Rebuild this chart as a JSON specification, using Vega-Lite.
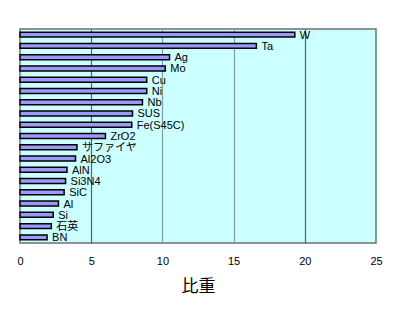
{
  "$schema": "https://vega.github.io/schema/vega-lite/v6.json",
  "autosize": "none",
  "width": 356,
  "height": 214,
  "padding": {"left": 20, "top": 29, "right": 24, "bottom": 77},
  "background": "white",
  "config": {
    "view": {"fill": "#ccffff", "stroke": "#707070", "strokeWidth": 1.5},
    "font": "Liberation Sans, Noto Sans CJK JP"
  },
  "data": {
    "values": [
      {"material": "W", "sg": 19.3},
      {"material": "Ta", "sg": 16.6},
      {"material": "Ag", "sg": 10.5},
      {"material": "Mo", "sg": 10.2},
      {"material": "Cu", "sg": 8.9},
      {"material": "Ni", "sg": 8.9},
      {"material": "Nb", "sg": 8.6},
      {"material": "SUS", "sg": 7.9},
      {"material": "Fe(S45C)", "sg": 7.85},
      {"material": "ZrO2", "sg": 6.0},
      {"material": "サファイヤ", "sg": 4.0},
      {"material": "Al2O3", "sg": 3.9},
      {"material": "AlN", "sg": 3.3},
      {"material": "Si3N4", "sg": 3.2},
      {"material": "SiC", "sg": 3.1},
      {"material": "Al", "sg": 2.7},
      {"material": "Si", "sg": 2.33},
      {"material": "石英", "sg": 2.2},
      {"material": "BN", "sg": 1.9}
    ]
  },
  "encoding": {
    "y": {
      "field": "material",
      "type": "nominal",
      "sort": null,
      "scale": {"paddingInner": 0.56, "paddingOuter": 0.28},
      "axis": null
    },
    "x": {
      "field": "sg",
      "type": "quantitative",
      "scale": {"domain": [0, 25], "nice": false},
      "axis": {
        "values": [0, 5, 10, 15, 20, 25],
        "title": "比重",
        "titleFontSize": 17,
        "titleFontWeight": "normal",
        "titleColor": "black",
        "titlePadding": 12,
        "labelFontSize": 11,
        "labelColor": "black",
        "labelPadding": 12,
        "labelFlush": false,
        "ticks": false,
        "domain": false,
        "grid": true,
        "gridColor": {"condition": {"test": "datum.value == 20 || datum.value == 5", "value": "#486868"}, "value": "#80a0a0"},
        "gridWidth": 1.2,
        "gridOpacity": 1
      }
    }
  },
  "layer": [
    {
      "mark": {"type": "bar", "fill": "#9999ff", "stroke": "black", "strokeWidth": 1.5}
    },
    {
      "mark": {"type": "text", "align": "left", "baseline": "middle", "dx": 5, "dy": 1, "fontSize": 11, "color": "black"},
      "encoding": {"text": {"field": "material"}}
    }
  ]
}
